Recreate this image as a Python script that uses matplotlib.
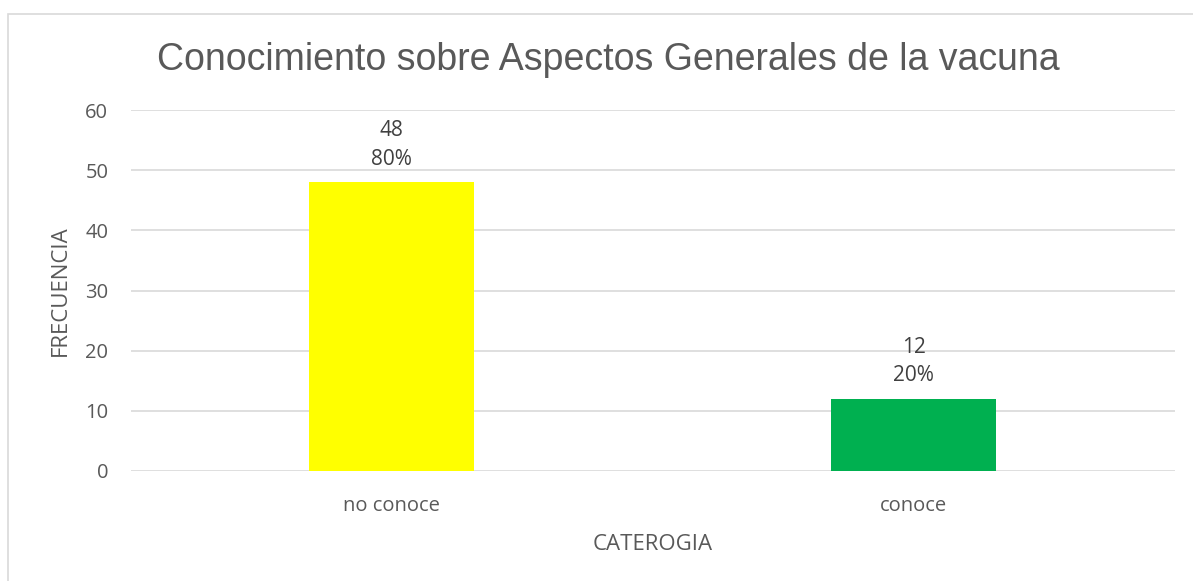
import matplotlib
matplotlib.use("Agg")
import matplotlib.pyplot as plt
from matplotlib.patches import Rectangle

categories = ["no conoce", "conoce"]
values = [48, 12]
percents = ["80%", "20%"]
colors = ["#FFFF00", "#00B050"]
yticks = [0, 10, 20, 30, 40, 50, 60]

TXT = "#595959"
GRID = "#D9D9D9"
plt.rcParams['font.family'] = ['Open Sans', 'DejaVu Sans']

fig = plt.figure(figsize=(11.93, 5.81), dpi=100)
fig.patches.append(Rectangle((8/1193, -0.1), 1.2, 1 - 14/581 + 0.1, transform=fig.transFigure,
                             fill=False, edgecolor=GRID, linewidth=1.2))
ax = fig.add_axes([130.5/1193, 1 - 471/581, (1175 - 130.5)/1193, (471 - 110)/581])

x = list(range(len(categories)))
ax.bar(x, values, width=0.316, color=colors, zorder=3)
for xi, v, p in zip(x, values, percents):
    ax.annotate(f"{v}\n{p}", (xi, v), xytext=(0, 9), textcoords="offset points",
                ha="center", va="bottom", fontsize=15, color="#404040", linespacing=1.45)

ax.set_xlim(-0.5, 1.5)
ax.set_ylim(0, 60)
ax.set_yticks(yticks)
ax.set_xticks(x)
ax.set_xticklabels(categories)
ax.yaxis.grid(True, color=GRID, linewidth=1.2, zorder=0)
for s in ax.spines.values():
    s.set_visible(False)
ax.tick_params(axis="both", length=0, labelsize=14.5, labelcolor=TXT)
ax.tick_params(axis="y", pad=16)
ax.tick_params(axis="x", pad=18)
ax.set_ylabel("FRECUENCIA", fontsize=16, color=TXT, labelpad=10)
ax.set_xlabel("CATEROGIA", fontsize=16, color=TXT, labelpad=13)
fig.text(608/1193, 1 - 60/581, "Conocimiento sobre Aspectos Generales de la vacuna",
         ha="center", va="center", fontsize=27, color=TXT, family=["Liberation Sans", "DejaVu Sans"])

fig.savefig("out.png", dpi=100)
